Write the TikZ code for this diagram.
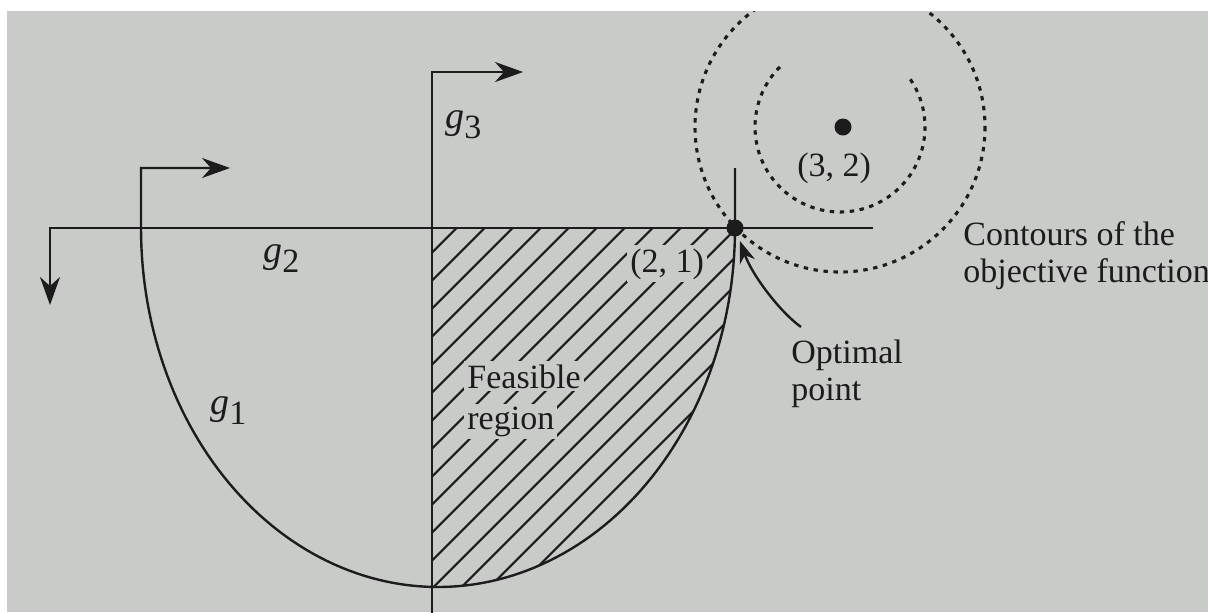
\documentclass[tikz,border=0pt]{standalone}
\usepackage{fontspec}
\setmainfont{Liberation Serif}
\usetikzlibrary{arrows.meta}
\definecolor{paper}{RGB}{201,203,201}
\definecolor{ink}{RGB}{28,28,28}
\newcommand{\glabel}[1]{{\fontsize{19pt}{19pt}\selectfont\itshape g}\raisebox{-5pt}{\fontsize{17pt}{17pt}\selectfont #1}}
\begin{document}
\begin{tikzpicture}[x=0.5pt,y=-0.5pt,
  bigtip/.style={-{Stealth[length=14pt,width=10pt,inset=4.5pt]}},
  axisline/.style={draw=ink,line width=1.4pt},
  curveline/.style={draw=ink,line width=1.2pt},
  hatchline/.style={draw=ink,line width=1.05pt},
  contour/.style={draw=ink,line width=1.55pt,dash pattern=on 2.2pt off 2.8pt},
  dotnode/.style={circle,fill=ink,inner sep=0pt,minimum size=8.5pt},
  txt/.style={font=\fontsize{17pt}{20pt}\selectfont,text=ink,inner sep=1.5pt,anchor=base west},
  gl/.style={text=ink,inner sep=0pt,anchor=base west},
]
\useasboundingbox (0,0) rectangle (1208,612);
\fill[white] (0,0) rectangle (1208,612);
\fill[paper] (7,11) rectangle (1208,612);
\begin{scope}
\clip (7,11) rectangle (1208,612);
% hatching of the feasible region
\begin{scope}
\clip (432,200) rectangle (760,600);
\clip plot[domain=0:180,samples=120] ({438+297*cos(\x)},{228+359*sin(\x)}) -- cycle;
\foreach \c in {656.7,684.7,...,1160} \draw[hatchline] ({\c-650},650) -- ({\c-150},150);
\end{scope}
% constraint g3
\coordinate (g3bot) at (432,615);
\coordinate (g3corner) at (432,72);
\coordinate (g3tip) at (523,72);
\draw[axisline,bigtip] (g3bot) -- (g3corner) -- (g3tip);
% constraint g2
\coordinate (g2right) at (873,228);
\coordinate (g2corner) at (50,228);
\coordinate (g2tip) at (50,305);
\draw[axisline,bigtip] (g2right) -- (g2corner) -- (g2tip);
% constraint g1
\coordinate (g1right) at (735,168);
\coordinate (g1corner) at (141,168);
\coordinate (g1tip) at (230,168);
\draw[curveline,bigtip] (g1right) -- (735,228) -- plot[domain=0:180,samples=120] ({438+297*cos(\x)},{228+359*sin(\x)}) -- (g1corner) -- (g1tip);
% contours
\draw[contour] (840,127) circle[radius=145];
\draw[contour] plot[domain=135:397,samples=100] ({840+85*cos(\x)},{127-85*sin(\x)});
% points
\node[dotnode] (opt) at (735,228) {};
\node[dotnode] (ctr) at (843,127) {};
% labels
\node[gl] (g3lab) at (445,128) {\glabel{3}};
\node[gl] (g2lab) at (263,262) {\glabel{2}};
\node[gl] (g1lab) at (210,414) {\glabel{1}};
\node[txt,fill=paper] (pt21) at (627,272) {(2, 1)};
\node[txt] (pt32) at (794,176) {(3, 2)};
\node[txt,fill=paper] (feas) at (464,388) {Feasible};
\node[txt,fill=paper] (reg) at (464,429) {region};
\node[txt] (cont1) at (960,245) {Contours of the};
\node[txt] (cont2) at (960,282) {objective function};
\node[txt] (optl1) at (788,363) {Optimal};
\node[txt] (optl2) at (788,400) {point};
\coordinate (optstart) at (801,327);
\coordinate (opttip) at (740,241);
\draw[curveline,-{Stealth[length=11pt,width=8pt,inset=3.5pt]}] (optstart) .. controls (780,312) and (752,275) .. (opttip);
\end{scope}
\end{tikzpicture}
\end{document}
